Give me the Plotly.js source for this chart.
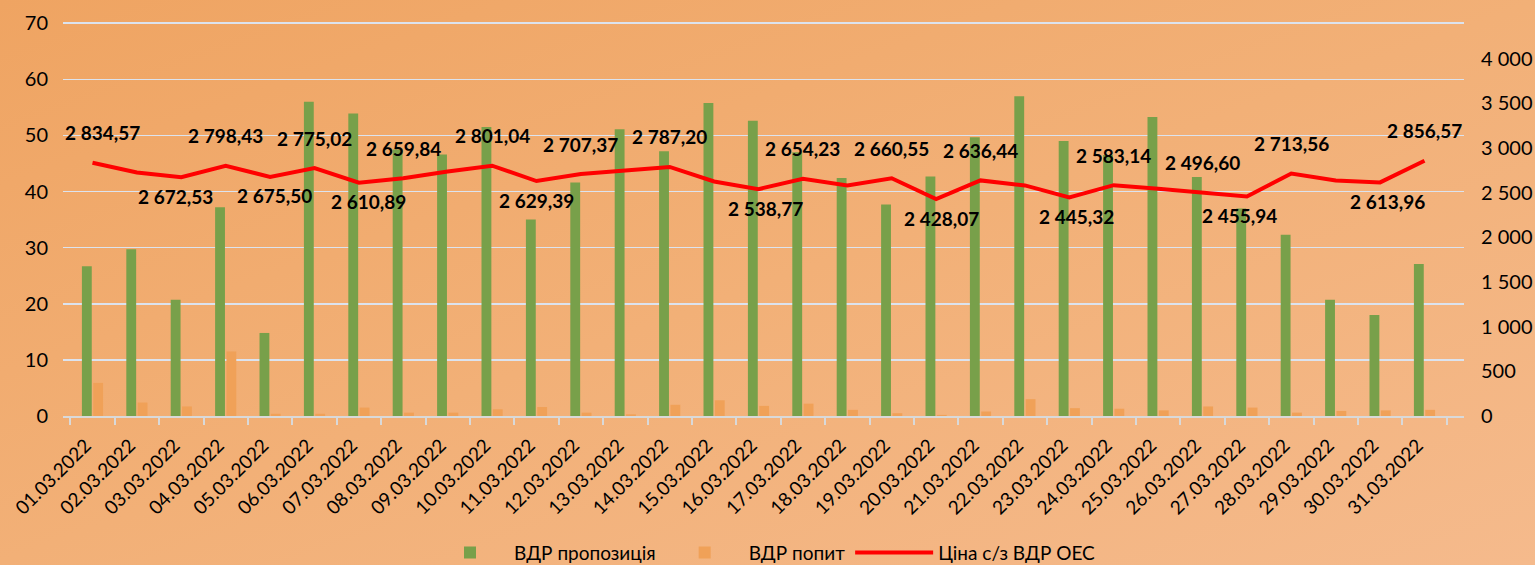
<!DOCTYPE html>
<html>
<head>
<meta charset="utf-8">
<script src="https://cdn.plot.ly/plotly-3.0.1.min.js"></script>
<style>
html,body{margin:0;padding:0;}
body{width:1535px;height:565px;background:linear-gradient(160deg,#EFA462 0%,#F2B077 50%,#F5BA8C 100%);}
#chart{width:1535px;height:565px;}
</style>
</head>
<body>
<div id="chart"></div>
<script>
// ---- data ----
const dates = ["01.03.2022","02.03.2022","03.03.2022","04.03.2022","05.03.2022","06.03.2022","07.03.2022","08.03.2022","09.03.2022","10.03.2022","11.03.2022","12.03.2022","13.03.2022","14.03.2022","15.03.2022","16.03.2022","17.03.2022","18.03.2022","19.03.2022","20.03.2022","21.03.2022","22.03.2022","23.03.2022","24.03.2022","25.03.2022","26.03.2022","27.03.2022","28.03.2022","29.03.2022","30.03.2022","31.03.2022"];
const supply = [26.7,29.7,20.7,37.2,14.8,56.0,53.9,47.5,46.6,51.5,35.0,41.6,51.1,47.2,55.8,52.6,47.0,42.4,37.7,42.7,49.7,57.0,49.0,46.5,53.3,42.6,37.0,32.3,20.7,18.0,27.1];
const demand = [5.9,2.4,1.7,11.5,0.4,0.4,1.5,0.6,0.6,1.2,1.6,0.6,0.3,2.0,2.8,1.8,2.2,1.1,0.5,0.2,0.8,3.0,1.4,1.3,1.0,1.7,1.5,0.6,0.9,1.0,1.1];
const price = [2834.57,2725,2672.53,2798.43,2675.50,2775.02,2610.89,2659.84,2735,2801.04,2629.39,2707.37,2747,2787.20,2624,2538.77,2654.23,2580,2660.55,2428.07,2636.44,2580,2445.32,2583.14,2543,2496.60,2455.94,2713.56,2635,2613.96,2856.57];
const seriesNames = ["ВДР пропозиція","ВДР попит","Ціна с/з ВДР ОЕС"];
// label placement per point: 'a' above, 'b' below, '' none
const labelPos = ["a","","b","a","b","a","b","a","","a","b","a","","a","","b","a","","a","b","a","","b","a","","a","b","a","","b","a"];
const labelDx = [10,0,-6,0,4,0,10,0,0,0,0,0,0,0,0,7,0,0,0,5,0,0,7,0,0,0,-7,0,0,7,0];

function fmt(v){
  const s = v.toFixed(2).split(".");
  const int = s[0].replace(/\B(?=(\d{3})+(?!\d))/g," ");
  return int + "," + s[1];
}

const FONT = "Lato, 'Noto Sans', 'DejaVu Sans', sans-serif";

const traces = [
  {type:"bar", name:seriesNames[0], x:dates, y:supply, marker:{color:"#78A04A"}, yaxis:"y"},
  {type:"bar", name:seriesNames[1], x:dates, y:demand, marker:{color:"#F0A158"}, yaxis:"y"},
  {type:"scatter", mode:"lines", name:seriesNames[2], x:dates, y:price, yaxis:"y2",
   line:{color:"#FF0000", width:4}}
];

const annotations = [];
price.forEach((v,i)=>{
  if(!labelPos[i]) return;
  annotations.push({
    x:dates[i], y:v, xref:"x", yref:"y2", text:fmt(v), showarrow:false,
    yshift: labelPos[i]==="a" ? 30 : -19, xshift: labelDx[i],
    font:{family:FONT, size:19, color:"#000", weight:"bold"}
  });
});

const layout = {
  width:1535, height:565,
  paper_bgcolor:"rgba(0,0,0,0)", plot_bgcolor:"rgba(0,0,0,0)",
  margin:{l:63, r:71, t:21, b:149},
  separators:", ",
  font:{family:FONT, color:"#000"},
  barmode:"group", bargap:0.49, bargroupgap:0.13,
  showlegend:true,
  legend:{orientation:"h", x:0.5, xref:"paper", xanchor:"center", y:0.022, yref:"container", yanchor:"middle",
          font:{family:FONT, size:19, color:"#000"}, bgcolor:"rgba(0,0,0,0)", itemwidth:78},
  xaxis:{type:"category", tickangle:-45, tickson:"boundaries", ticks:"outside", ticklen:7,
         tickcolor:"#D9D9D9", tickwidth:2, showline:true, linecolor:"#D9D9D9", linewidth:2,
         ticklabelstandoff:9, ticklabelshift:-7,
         showgrid:false, tickfont:{family:FONT, size:19, color:"#000"}, automargin:false},
  yaxis:{range:[0,70.4], tickvals:[0,10,20,30,40,50,60,70], showgrid:true, gridcolor:"#DCE3EE", gridwidth:1.5,
         zeroline:false, ticks:"", ticklabelstandoff:14,
         tickfont:{family:FONT, size:20, color:"#000"}, automargin:false},
  yaxis2:{overlaying:"y", side:"right", range:[0,4420], dtick:500, showgrid:false,
          zeroline:false, ticks:"", tickformat:",d", ticklabelstandoff:16,
          tickfont:{family:FONT, size:20, color:"#000"}, automargin:false},
  annotations:annotations
};

Plotly.newPlot("chart", traces, layout, {displayModeBar:false, staticPlot:true});
</script>
</body>
</html>
